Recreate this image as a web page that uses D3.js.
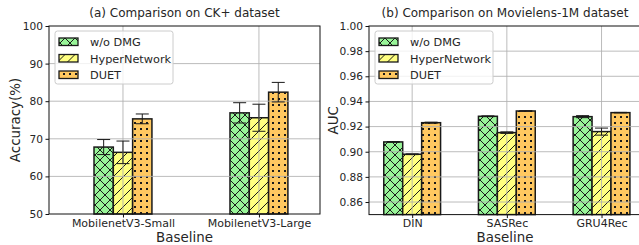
<!DOCTYPE html>
<html>
<head>
<meta charset="utf-8">
<script src="https://cdn.jsdelivr.net/npm/d3@7"></script>
<style>
  body { margin: 0; background: #fff; }
  svg text { font-family: "DejaVu Sans", sans-serif; fill: #262626; }
</style>
</head>
<body>
<div id="chart"></div>
<script>
// ---- data ----
const seriesNames = ["w/o DMG", "HyperNetwork", "DUET"];

const ckCategories = ["MobilenetV3-Small", "MobilenetV3-Large"];
const ckWoDmg = [67.8, 76.9];
const ckWoDmgErr = [2.0, 2.7];
const ckHyper = [66.4, 75.6];
const ckHyperErr = [3.0, 3.6];
const ckDuet = [75.3, 82.4];
const ckDuetErr = [1.3, 2.6];
const ckTicks = [50, 60, 70, 80, 90, 100];

const mlCategories = ["DIN", "SASRec", "GRU4Rec"];
const mlWoDmg = [0.9078, 0.9282, 0.9279];
const mlWoDmgErr = [0.0003, 0.0003, 0.0008];
const mlHyper = [0.898, 0.9152, 0.916];
const mlHyperErr = [0.0003, 0.0006, 0.0028];
const mlDuet = [0.9231, 0.9324, 0.9311];
const mlDuetErr = [0.0004, 0.0002, 0.0002];
const mlTicks = [0.86, 0.88, 0.9, 0.92, 0.94, 0.96, 0.98, 1.0];

const colors = ["#98f598", "#ffff80", "#ffc860"];
const patternIds = ["hatchX", "hatchSlash", "hatchDot"];

const svg = d3.select("#chart").append("svg")
  .attr("width", 639)
  .attr("height", 245);

// hatch patterns
const defs = svg.append("defs");
const ink = "#1a1a1a";

const px = defs.append("pattern").attr("id", "hatchX")
  .attr("patternUnits", "userSpaceOnUse").attr("width", 10).attr("height", 10);
px.append("rect").attr("width", 10).attr("height", 10).attr("fill", colors[0]);
px.append("path").attr("d", "M0,0L10,10M10,0L0,10")
  .attr("stroke", ink).attr("stroke-width", 1);

const ps = defs.append("pattern").attr("id", "hatchSlash")
  .attr("patternUnits", "userSpaceOnUse").attr("width", 10).attr("height", 10);
ps.append("rect").attr("width", 10).attr("height", 10).attr("fill", colors[1]);
ps.append("path").attr("d", "M-1,11L11,-1M-6,6L6,-6M4,16L16,4")
  .attr("stroke", ink).attr("stroke-width", 1);

const pd = defs.append("pattern").attr("id", "hatchDot")
  .attr("patternUnits", "userSpaceOnUse").attr("width", 6).attr("height", 6);
pd.append("rect").attr("width", 6).attr("height", 6).attr("fill", colors[2]);
pd.append("rect").attr("x", 2).attr("y", 2).attr("width", 2).attr("height", 2).attr("fill", ink);

function drawPanel(opt) {
  const { left, right, top, bottom, xDomain, yDomain, categories, series, ticks, barW, tickFmt, title, yLabel, yLabelX } = opt;

  const x = d3.scaleLinear().domain(xDomain).range([left, right]);
  const y = d3.scaleLinear().domain(yDomain).range([bottom, top]);
  const g = svg.append("g");

  // bars
  series.forEach((s, si) => {
    const offset = (si - 1) * barW;
    const bars = categories.map((c, i) => ({ i, v: s.values[i], e: s.errs[i] }));
    g.selectAll(null)
      .data(bars)
      .join("rect")
      .attr("x", (d) => x(d.i + offset - barW / 2))
      .attr("y", (d) => y(d.v))
      .attr("width", (d) => x(d.i + offset + barW / 2) - x(d.i + offset - barW / 2))
      .attr("height", (d) => bottom - y(d.v))
      .attr("fill", `url(#${patternIds[si]})`)
      .attr("stroke", ink)
      .attr("stroke-width", 1.5);
  });

  // grid (drawn over the bars like the original)
  const grid = g.append("g").attr("stroke", "#b0b0b0").attr("stroke-opacity", 0.85).attr("stroke-width", 1);
  grid.selectAll(null).data(ticks.filter((t) => t > yDomain[0] && t < yDomain[1]))
    .join("line")
    .attr("x1", left).attr("x2", right)
    .attr("y1", (d) => y(d)).attr("y2", (d) => y(d));
  grid.selectAll(null).data(categories.map((c, i) => i))
    .join("line")
    .attr("x1", (d) => x(d)).attr("x2", (d) => x(d))
    .attr("y1", top).attr("y2", bottom);

  // error bars
  series.forEach((s, si) => {
    const offset = (si - 1) * barW;
    const eb = g.append("g").attr("stroke", ink).attr("stroke-width", 1);
    categories.forEach((c, i) => {
      const cx = x(i + offset);
      const v = s.values[i], e = s.errs[i];
      eb.append("line").attr("x1", cx).attr("x2", cx).attr("y1", y(v - e)).attr("y2", y(v + e));
      eb.append("line").attr("x1", cx - 6.5).attr("x2", cx + 6.5).attr("y1", y(v + e)).attr("y2", y(v + e));
      eb.append("line").attr("x1", cx - 6.5).attr("x2", cx + 6.5).attr("y1", y(v - e)).attr("y2", y(v - e));
    });
  });

  // frame
  g.append("rect")
    .attr("x", left).attr("y", top)
    .attr("width", right - left).attr("height", bottom - top)
    .attr("fill", "none").attr("stroke", "#111").attr("stroke-width", 1);

  // axes
  const yAxis = g.append("g")
    .attr("transform", `translate(${left},0)`)
    .call(d3.axisLeft(y).tickValues(ticks).tickFormat(tickFmt).tickSize(3.5).tickPadding(2.5));
  const xAxis = g.append("g")
    .attr("transform", `translate(0,${bottom})`)
    .call(d3.axisBottom(x).tickValues(categories.map((c, i) => i)).tickFormat((d) => categories[d]).tickSize(3.5).tickPadding(1.5));
  [yAxis, xAxis].forEach((a) => {
    a.select(".domain").remove();
    a.selectAll("line").attr("stroke", "#111");
    a.selectAll("text").style("fill", "#262626");
  });
  yAxis.selectAll("text").attr("font-size", 10.6);
  xAxis.selectAll("text").attr("font-size", 11);

  // titles
  const cx = (left + right) / 2;
  g.append("text").attr("x", cx).attr("y", 16.5).attr("text-anchor", "middle")
    .attr("font-size", 12).text(title);
  g.append("text").attr("x", cx).attr("y", 242).attr("text-anchor", "middle")
    .attr("font-size", 13.4).text("Baseline");
  g.append("text")
    .attr("transform", `translate(${yLabelX},${(top + bottom) / 2}) rotate(-90)`)
    .attr("text-anchor", "middle").attr("font-size", 13.4).text(yLabel);

  // legend
  const lg = g.append("g").attr("transform", `translate(${left + 6},31)`);
  lg.append("rect").attr("width", 118).attr("height", 53).attr("rx", 2.5)
    .attr("fill", "#fff").attr("fill-opacity", 0.8)
    .attr("stroke", "#cccccc").attr("stroke-width", 1);
  seriesNames.forEach((name, i) => {
    const row = lg.append("g").attr("transform", `translate(0,${7 + i * 16.5})`);
    row.append("rect").attr("x", 4).attr("y", 0).attr("width", 19).attr("height", 7.5)
      .attr("fill", `url(#${patternIds[i]})`).attr("stroke", ink).attr("stroke-width", 1.3);
    row.append("text").attr("x", 35).attr("y", 8).attr("font-size", 11.3).text(name);
  });
}

drawPanel({
  left: 49, right: 320, top: 26, bottom: 214,
  xDomain: [-0.544, 1.449], yDomain: [50, 100],
  categories: ckCategories,
  series: [
    { values: ckWoDmg, errs: ckWoDmgErr },
    { values: ckHyper, errs: ckHyperErr },
    { values: ckDuet, errs: ckDuetErr }
  ],
  ticks: ckTicks, barW: 0.142, tickFmt: d3.format("d"),
  title: "(a) Comparison on CK+ dataset", yLabel: "Accuracy(%)", yLabelX: 19.5
});

drawPanel({
  left: 369, right: 641, top: 26, bottom: 214.6,
  xDomain: [-0.456, 2.417], yDomain: [0.85, 1.0],
  categories: mlCategories,
  series: [
    { values: mlWoDmg, errs: mlWoDmgErr },
    { values: mlHyper, errs: mlHyperErr },
    { values: mlDuet, errs: mlDuetErr }
  ],
  ticks: mlTicks, barW: 0.2, tickFmt: d3.format(".2f"),
  title: "(b) Comparison on Movielens-1M dataset", yLabel: "AUC", yLabelX: 337.5
});
</script>
</body>
</html>
